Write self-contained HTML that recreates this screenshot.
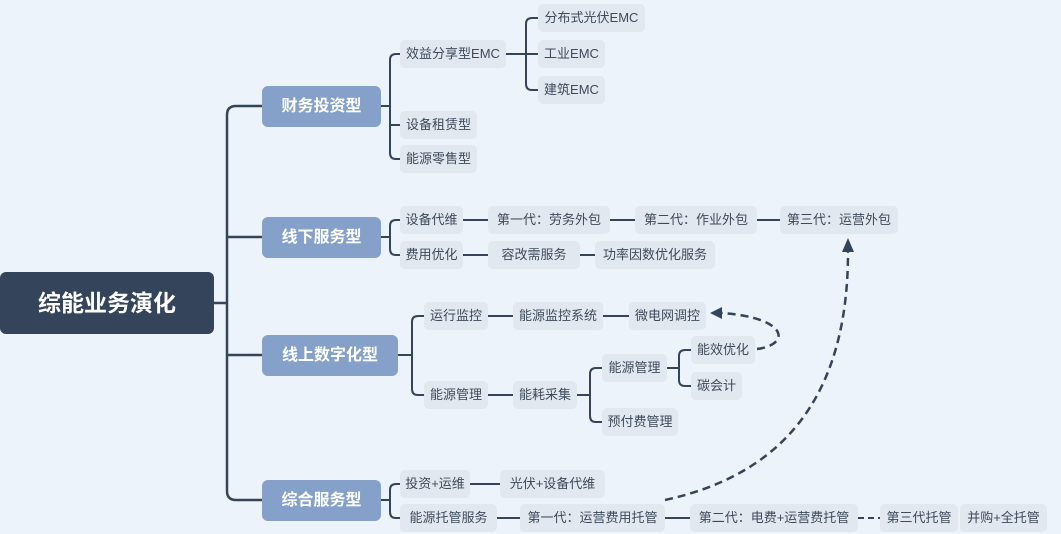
<!DOCTYPE html>
<html><head><meta charset="utf-8"><style>
body{margin:0;width:1061px;height:534px;background:#edf3fa;position:relative;overflow:hidden;font-family:"Liberation Sans","Noto Sans CJK SC",sans-serif}
.n{position:absolute;height:28px;line-height:28px;background:#e2e8f0;border-radius:5px;color:#3d4a5a;font-size:13px;text-align:center;white-space:nowrap}
.c{position:absolute;height:41px;line-height:41px;background:#85a1c9;border-radius:6px;color:#fff;font-size:16px;font-weight:bold;text-align:center}
svg{position:absolute;left:0;top:0}
</style></head><body>
<svg width="1061" height="534" fill="none" stroke="#34445a" stroke-width="2.5">
<path d="M214 303H227M262 106H236Q227 106 227 115V491Q227 500 236 500H262M227 237H262M227 355H262"/>
<g stroke-width="2">
<path d="M381 106H390M400 54H396Q390 54 390 60V153Q390 159 396 159H400M390 125H400"/>
<path d="M506 54H526M538 18H532Q526 18 526 24V84Q526 90 532 90H538M526 54H538"/>
<path d="M381 237H390M400 220H396Q390 220 390 226V249Q390 255 396 255H400"/>
<path d="M463 220H488M610 220H635M757 220H780M463 255H488M580 255H595"/>
<path d="M398 355H412M424 316H418Q412 316 412 322V389Q412 395 418 395H424"/>
<path d="M488 316H513M603 316H629M488 395H513"/>
<path d="M577 395H590M602 368H596Q590 368 590 374V416Q590 422 596 422H602"/>
<path d="M667 368H679M691 350H685Q679 350 679 356V380Q679 386 685 386H691"/>
<path d="M381 500H390M400 484H396Q390 484 390 490V512Q390 518 396 518H400"/>
<path d="M470 484H500M497 518H520M665 518H690"/>
<path d="M858 518H880" stroke-dasharray="6 4"/>
</g>
<g stroke-width="2.5" stroke-dasharray="8 5">
<path d="M757 349C790 345 790 318 722 313"/>
<path d="M665 500C780 475 848 400 848 252"/>
</g>
<path d="M710 313L722 307L722 319Z" fill="#34445a" stroke="none"/>
<path d="M848 238L842 252L854 252Z" fill="#34445a" stroke="none"/>
</svg>
<div style="position:absolute;left:0;top:272px;width:214px;height:62px;line-height:62px;background:#34445a;border-radius:6px;color:#fff;font-size:23px;font-weight:bold;text-align:center">综能业务演化</div>
<div class="c" style="left:262px;top:86px;width:119px">财务投资型</div>
<div class="c" style="left:262px;top:217px;width:119px">线下服务型</div>
<div class="c" style="left:262px;top:335px;width:136px">线上数字化型</div>
<div class="c" style="left:262px;top:480px;width:119px">综合服务型</div>

<div class="n" style="left:400px;top:40px;width:106px">效益分享型EMC</div>
<div class="n" style="left:400px;top:111px;width:77px">设备租赁型</div>
<div class="n" style="left:400px;top:145px;width:77px">能源零售型</div>
<div class="n" style="left:538px;top:4px;width:107px">分布式光伏EMC</div>
<div class="n" style="left:538px;top:40px;width:67px">工业EMC</div>
<div class="n" style="left:538px;top:76px;width:67px">建筑EMC</div>

<div class="n" style="left:400px;top:206px;width:63px">设备代维</div>
<div class="n" style="left:488px;top:206px;width:122px">第一代：劳务外包</div>
<div class="n" style="left:635px;top:206px;width:122px">第二代：作业外包</div>
<div class="n" style="left:780px;top:206px;width:118px">第三代：运营外包</div>
<div class="n" style="left:400px;top:241px;width:63px">费用优化</div>
<div class="n" style="left:488px;top:241px;width:92px">容改需服务</div>
<div class="n" style="left:595px;top:241px;width:120px">功率因数优化服务</div>

<div class="n" style="left:424px;top:302px;width:64px">运行监控</div>
<div class="n" style="left:513px;top:302px;width:90px">能源监控系统</div>
<div class="n" style="left:629px;top:302px;width:77px">微电网调控</div>
<div class="n" style="left:424px;top:381px;width:64px">能源管理</div>
<div class="n" style="left:513px;top:381px;width:64px">能耗采集</div>
<div class="n" style="left:602px;top:354px;width:65px">能源管理</div>
<div class="n" style="left:602px;top:408px;width:76px">预付费管理</div>
<div class="n" style="left:691px;top:336px;width:64px">能效优化</div>
<div class="n" style="left:691px;top:372px;width:51px">碳会计</div>

<div class="n" style="left:400px;top:470px;width:70px">投资+运维</div>
<div class="n" style="left:500px;top:470px;width:105px">光伏+设备代维</div>
<div class="n" style="left:400px;top:504px;width:97px">能源托管服务</div>
<div class="n" style="left:520px;top:504px;width:145px">第一代：运营费用托管</div>
<div class="n" style="left:690px;top:504px;width:168px">第二代：电费+运营费托管</div>
<div class="n" style="left:880px;top:504px;width:78px">第三代托管</div>
<div class="n" style="left:960px;top:504px;width:87px">并购+全托管</div>
</body></html>
